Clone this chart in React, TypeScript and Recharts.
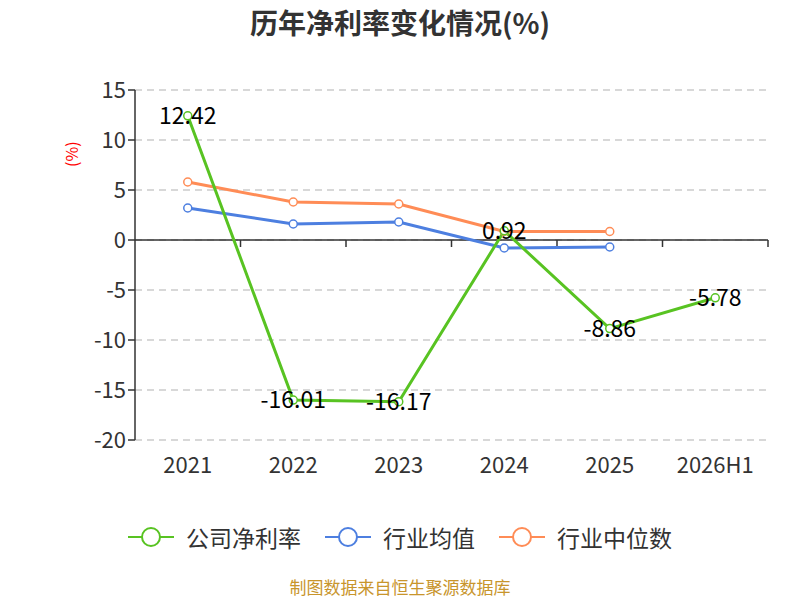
import React from 'react'
import { LineChart, Line, XAxis, YAxis, CartesianGrid, ReferenceLine, LabelList } from 'recharts'

const years = ['2021', '2022', '2023', '2024', '2025', '2026H1']
const companyMargin = [12.42, -16.01, -16.17, 0.92, -8.86, -5.78]
const industryAvg = [3.2, 1.6, 1.8, -0.8, -0.7, null]
const industryMedian = [5.8, 3.8, 3.6, 0.85, 0.85, null]
const yTicks = [15, 10, 5, 0, -5, -10, -15, -20]

const GREEN = '#58c322'
const BLUE = '#4d7fe0'
const ORANGE = '#ff8c56'
const FONT = '"Noto Sans CJK SC", "Noto Sans", sans-serif'

const chartData = years.map((y, i) => ({
  year: y,
  company: companyMargin[i],
  avg: industryAvg[i],
  median: industryMedian[i],
}))

const legendItems = [
  { name: '公司净利率', color: GREEN },
  { name: '行业均值', color: BLUE },
  { name: '行业中位数', color: ORANGE },
]

// zero axis line with category boundary ticks
function ZeroAxis(props: any) {
  const { x1, y1, x2 } = props
  const step = (x2 - x1) / years.length
  const ticks = []
  for (let i = 1; i <= years.length; i++) {
    const x = x1 + step * i
    ticks.push(<line key={i} x1={x} x2={x} y1={y1} y2={y1 + 7} stroke="#333" strokeWidth={1.5} />)
  }
  return (
    <g>
      <line x1={x1} x2={x2} y1={y1} y2={y1} stroke="#333" strokeWidth={1.5} />
      {ticks}
    </g>
  )
}

function PointLabel(props: any) {
  const { x, y, width, value } = props
  if (value == null) return null
  return (
    <text x={x + (width || 0) / 2} y={y - 2} textAnchor="middle" dominantBaseline="central" fontSize={23} fill="#000" fontFamily={FONT}>
      {value.toFixed(2)}
    </text>
  )
}

const dot = (color: string) => ({ r: 4, fill: '#fff', stroke: color, strokeWidth: 1.5 })

export default function App() {
  return (
    <div style={{ position: 'absolute', left: 0, top: 0, width: 800, height: 600, background: '#fff', fontFamily: FONT }}>
      <div style={{ position: 'absolute', top: 2, width: 800, textAlign: 'center', fontSize: 28, fontWeight: 'bold', color: '#333' }}>
        历年净利率变化情况(%)
      </div>
      <LineChart width={800} height={600} data={chartData} margin={{ top: 90, right: 32, bottom: 130, left: 0 }}>
        <CartesianGrid vertical={false} stroke="#ccc" strokeDasharray="7 5" strokeWidth={1.3} />
        <XAxis
          dataKey="year"
          scale="band"
          axisLine={false}
          tickLine={false}
          height={30}
          tickMargin={11}
          tick={{ fontSize: 22, fill: '#333', fontFamily: FONT }}
        />
        <YAxis
          width={135}
          domain={[-20, 15]}
          ticks={yTicks}
          interval={0}
          axisLine={{ stroke: '#333', strokeWidth: 1.5 }}
          tickLine={{ stroke: '#333', strokeWidth: 1.5 }}
          tickSize={7}
          tick={{ fontSize: 22, fill: '#333', fontFamily: FONT }}
          label={{ value: '(%)', angle: -90, position: 'insideLeft', offset: 72, dy: -98, fill: 'red', fontSize: 16, fontFamily: FONT }}
        />
        <ReferenceLine y={0} shape={ZeroAxis} />
        <Line dataKey="median" stroke={ORANGE} strokeWidth={3} dot={dot(ORANGE)} isAnimationActive={false} />
        <Line dataKey="avg" stroke={BLUE} strokeWidth={3} dot={dot(BLUE)} isAnimationActive={false} />
        <Line dataKey="company" stroke={GREEN} strokeWidth={3} dot={dot(GREEN)} isAnimationActive={false}>
          <LabelList dataKey="company" content={PointLabel} />
        </Line>
      </LineChart>
      <div style={{ position: 'absolute', top: 520, width: 800, display: 'flex', justifyContent: 'center', gap: 24 }}>
        {legendItems.map((it) => (
          <div key={it.name} style={{ display: 'flex', alignItems: 'center', gap: 12 }}>
            <svg width={46} height={24}>
              <line x1={0} x2={46} y1={12} y2={12} stroke={it.color} strokeWidth={2} />
              <circle cx={23} cy={12} r={9} fill="#fff" stroke={it.color} strokeWidth={2} />
            </svg>
            <span style={{ fontSize: 23, color: '#333' }}>{it.name}</span>
          </div>
        ))}
      </div>
      <div style={{ position: 'absolute', top: 578, width: 800, textAlign: 'center', fontSize: 17, lineHeight: 1, color: '#c8952c' }}>
        制图数据来自恒生聚源数据库
      </div>
    </div>
  )
}
